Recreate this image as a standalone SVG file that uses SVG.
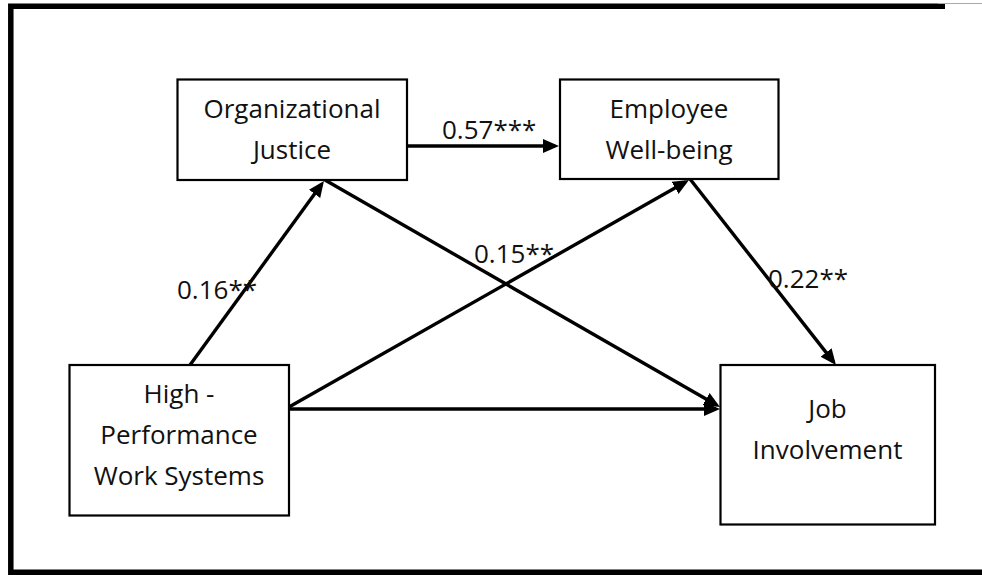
<svg xmlns="http://www.w3.org/2000/svg" width="982" height="575" viewBox="0 0 982 575">
<style>
.box{fill:#fff;stroke:#000;stroke-width:2.2}
.t{font-family:"Open Sans","Noto Sans",sans-serif;font-size:26px;fill:#111;text-anchor:middle}
.lbl{font-family:"Open Sans","Noto Sans",sans-serif;font-size:26px;fill:#111}
.c{stroke:#000;stroke-width:3.4;fill:none;marker-end:url(#ah)}
</style>
<defs>
<marker id="ah" markerUnits="userSpaceOnUse" markerWidth="17" markerHeight="15" refX="12" refY="7" orient="auto">
<path d="M0,0 L16,7 L0,14 z" fill="#000"/>
</marker>
</defs>
<rect width="982" height="575" fill="#fff"/>
<g id="frame">
<path d="M945,6.2 H10.8 V572.2 H982" fill="none" stroke="#000" stroke-width="5.5"/>
<line x1="938" y1="3.5" x2="982" y2="3.5" stroke="#aaa" stroke-width="1"/>
</g>
<g id="connectors">
<line class="c" x1="190" y1="365" x2="321.6" y2="184.2"/>
<line class="c" x1="407" y1="146" x2="555" y2="146"/>
<line class="c" x1="325" y1="180" x2="716.5" y2="405"/>
<line class="c" x1="289" y1="407" x2="685.5" y2="182"/>
<line class="c" x1="690" y1="179" x2="833.5" y2="361.9"/>
<line class="c" x1="289" y1="409" x2="716" y2="409"/>
</g>
<g id="node-oj">
<rect class="box" x="177.5" y="79.5" width="229.5" height="100.5"/>
<text class="t" x="292" y="118">Organizational</text>
<text class="t" x="292" y="159">Justice</text>
</g>
<g id="node-ew">
<rect class="box" x="560" y="79.5" width="218.5" height="99.5"/>
<text class="t" x="669" y="118">Employee</text>
<text class="t" x="669" y="159">Well-being</text>
</g>
<g id="node-hpws">
<rect class="box" x="69.5" y="365" width="219.5" height="150.5"/>
<text class="t" x="179" y="403">High -</text>
<text class="t" x="179" y="444">Performance</text>
<text class="t" x="179" y="485">Work Systems</text>
</g>
<g id="node-ji">
<rect class="box" x="720.5" y="365" width="214.5" height="159.5"/>
<text class="t" x="827.5" y="418">Job</text>
<text class="t" x="827.5" y="459">Involvement</text>
</g>
<g id="labels">
<text class="lbl" x="442" y="139">0.57***</text>
<text class="lbl" x="177" y="299">0.16**</text>
<text class="lbl" x="474" y="263">0.15**</text>
<text class="lbl" x="768" y="288">0.22**</text>
</g>
</svg>
